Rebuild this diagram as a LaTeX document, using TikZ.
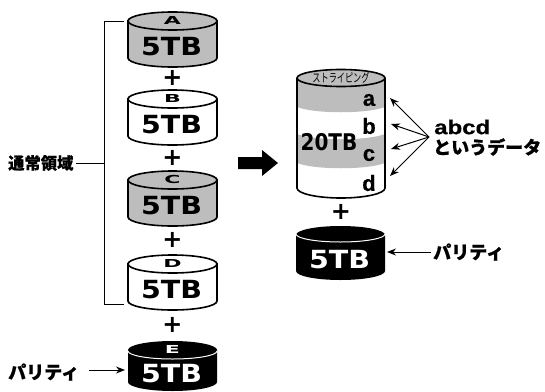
\documentclass[tikz,border=0pt]{standalone}
\usepackage{fontspec}
\setmainfont{DejaVu Sans}
\newfontfamily\latinfont[BoldFeatures={FakeBold=.5}]{Liberation Sans}
\newfontfamily\jpfont[BoldFeatures={FakeBold=.7}]{Noto Sans CJK JP}
\usetikzlibrary{arrows.meta}
\definecolor{diskgray}{gray}{0.74}
\tikzset{
    line/.style={line width=1pt},
    arrow/.style={line width=1pt,-{Stealth[length=9pt,width=7pt]}},
    outline/.style={line width=1.6pt},
    size/.style={font=\bfseries\fontsize{25}{25}\selectfont,xscale=1.14,transform shape,inner sep=0pt},
    letter/.style={font=\bfseries\fontsize{11}{11}\selectfont,xscale=2,transform shape,inner sep=0pt},
    plus/.style={font=\bfseries\fontsize{24}{24}\selectfont,inner sep=0pt},
    label/.style={font=\jpfont\bfseries\fontsize{18}{20}\selectfont,inner sep=0pt,align=left},
}
% one disk: centre x, centre y of the lid, fill colour
\newcommand{\drawdisk}[3]{
    \draw[outline,fill=#3] (#1-44.5,#2) -- (#1-44.5,#2+37) arc[start angle=180,end angle=360,x radius=44.5pt,y radius=9pt] -- (#1+44.5,#2) -- cycle;
    \draw[outline,fill=#3] (#1,#2) ellipse[x radius=44.5pt,y radius=9pt];
}
\begin{document}
\begin{tikzpicture}[x=1pt,y=-1pt]
    \useasboundingbox (0,0) rectangle (545,391);

    % left stack
    \foreach \name/\ypos/\col in {A/21/diskgray,B/99/white,C/180/diskgray,D/264/white}{
        \drawdisk{172.5}{\ypos}{\col}
        \node[letter] (letter\name) at (172.5,\ypos-1) {\name};
        \node[size] (size\name) at (171.5,\ypos+26) {5TB};
    }
    \fill[black] (128,350) -- (128,382) arc[start angle=180,end angle=360,x radius=44.5pt,y radius=9pt] -- (217,350) arc[start angle=0,end angle=180,x radius=44.5pt,y radius=9pt] -- cycle;
    \draw[white,line width=1pt] (128,351) arc[start angle=180,end angle=360,x radius=44.5pt,y radius=8pt];
    \node[letter,white] (letterE) at (172.5,349) {E};
    \node[size,white] (sizeE) at (171.5,374) {5TB};

    \node[plus] (plusA) at (172.5,78) {+};
    \node[plus] (plusB) at (172.5,158) {+};
    \node[plus] (plusC) at (172.5,240) {+};
    \node[plus] (plusD) at (172.5,325) {+};

    % bracket
    \node[label,anchor=west,font=\jpfont\bfseries\fontsize{16.3}{18}\selectfont] (normal) at (8,163) {通常領域};
    \coordinate (brTop) at (124,21);
    \coordinate (brBottom) at (124,304);
    \coordinate (brMid) at (104,163);
    \draw[line] (brTop) -- (104,21) -- (104,304) -- (brBottom);
    \draw[line] (normal.east) ++(2,0) -- (brMid);

    % parity, left
    \node[label,anchor=west] (parityL) at (8,372) {パリティ};
    \coordinate (parityLend) at (125,370);
    \draw[arrow] (89,370) -- (parityLend);

    % block arrow
    \fill[black] (238,157) -- (262,157) -- (262,150) -- (278,163) -- (262,176) -- (262,169) -- (238,169) -- cycle;

    % striped disk
    \fill[diskgray] (297,78) -- (297,107) .. controls (315,114) and (367,114) .. (385,107) -- (385,78) -- cycle;
    \fill[diskgray] (297,134) .. controls (315,141) and (367,141) .. (385,134) -- (385,163) .. controls (367,170) and (315,170) .. (297,163) -- cycle;
    \draw[outline] (297,78) -- (297,188) arc[start angle=180,end angle=360,x radius=44pt,y radius=10pt] -- (385,78);
    \draw[outline,fill=diskgray] (341,78) ellipse[x radius=44pt,y radius=8.5pt];
    \node[font=\jpfont\fontsize{12}{12}\selectfont,xscale=.68,transform shape,inner sep=0pt] (stripe) at (341,78) {ストライピング};
    \node[font=\bfseries\fontsize{23}{23}\selectfont,xscale=.87,transform shape,inner sep=0pt] (sizeBig) at (329,142) {20TB};
    \foreach \name/\ypos in {a/100,b/126,c/155,d/183}{
        \node[font=\latinfont\bfseries\fontsize{22}{22}\selectfont,inner sep=0pt] (cell\name) at (369,\ypos) {\name};
    }

    % data label
    \node[font=\latinfont\bfseries\fontsize{20}{20}\selectfont,xscale=1.2,transform shape,inner sep=0pt,anchor=west] (abcd) at (434,127) {abcd};
    \node[label,anchor=west] (dataname) at (433,147) {というデータ};
    \coordinate (hub) at (429,137);
    \coordinate (enda) at (390,98);
    \coordinate (endb) at (391,124);
    \coordinate (endc) at (391,149);
    \coordinate (endd) at (390,176);
    \foreach \tip in {enda,endb,endc,endd}{
        \draw[arrow] (hub) -- (\tip);
    }

    \node[plus] (plusR) at (341,212) {+};

    % parity, right
    \fill[black] (296,235) -- (296,271) arc[start angle=180,end angle=360,x radius=44.5pt,y radius=9pt] -- (385,235) arc[start angle=0,end angle=180,x radius=44.5pt,y radius=9pt] -- cycle;
    \draw[white,line width=1pt] (296,234) arc[start angle=180,end angle=360,x radius=44.5pt,y radius=8pt];
    \node[size,white] (sizeF) at (339.5,260) {5TB};
    \node[label,anchor=west] (parityR) at (433,252) {パリティ};
    \coordinate (parityRend) at (387,252);
    \draw[arrow] (parityR.west) ++(-2,0) -- (parityRend);
\end{tikzpicture}
\end{document}
